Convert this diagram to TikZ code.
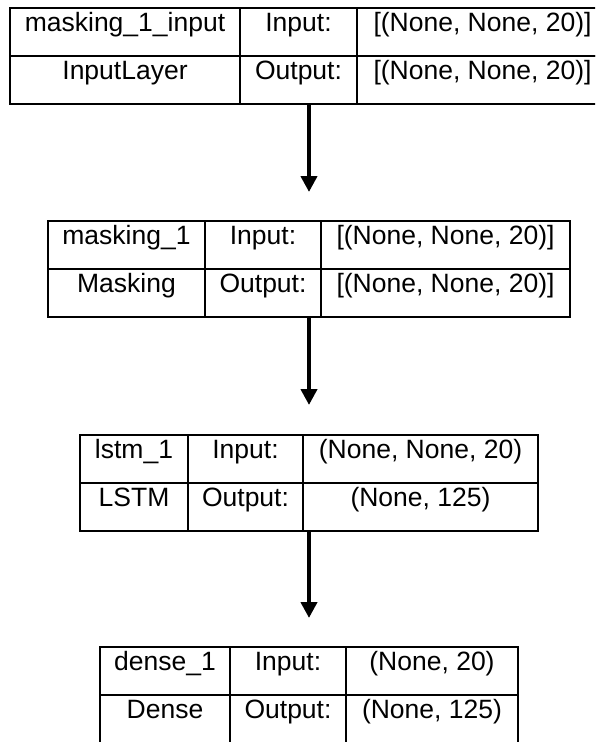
\documentclass[tikz,border=0pt]{standalone}
\usepackage{fontspec}
\setmainfont{Liberation Sans}
\usetikzlibrary{arrows.meta,fit}

\tikzset{
  cell/.style={draw, line width=2pt, anchor=north west, outer sep=0pt,
    inner sep=0pt, minimum height=48pt, text height=10pt, text depth=12pt,
    font=\fontsize{26.5}{31}\selectfont},
  layerbox/.style={inner sep=0pt, outer sep=0pt, draw=none},
  flow/.style={line width=4.5pt, -{Triangle[width=16pt,length=16pt]}}
}

% one table cell: name, left x, right x, top y, text
\newcommand\tablecell[5]{%
  \node[cell, minimum width={(#3-#2)*1pt}] (#1) at (#2,#4) {#5};}

\begin{document}
\begin{tikzpicture}[x=1pt,y=-1pt]
\clip (0,0) rectangle (595,742);

% masking_1_input / InputLayer
\tablecell{a1}{10}{240}{8}{masking\_1\_input}
\tablecell{a2}{240}{357}{8}{Input:}
\tablecell{a3}{357}{608}{8}{[(None, None, 20)]}
\tablecell{a4}{10}{240}{56}{InputLayer}
\tablecell{a5}{240}{357}{56}{Output:}
\tablecell{a6}{357}{608}{56}{[(None, None, 20)]}
\node[layerbox, fit=(a1)(a6)] (inputlayer) {};

% masking_1 / Masking
\tablecell{b1}{48}{205}{221}{masking\_1}
\tablecell{b2}{205}{321}{221}{Input:}
\tablecell{b3}{321}{570}{221}{[(None, None, 20)]}
\tablecell{b4}{48}{205}{269}{Masking}
\tablecell{b5}{205}{321}{269}{Output:}
\tablecell{b6}{321}{570}{269}{[(None, None, 20)]}
\node[layerbox, fit=(b1)(b6)] (masking) {};

% lstm_1 / LSTM
\tablecell{c1}{80}{188}{435}{lstm\_1}
\tablecell{c2}{188}{303}{435}{Input:}
\tablecell{c3}{303}{538}{435}{(None, None, 20)}
\tablecell{c4}{80}{188}{483}{LSTM}
\tablecell{c5}{188}{303}{483}{Output:}
\tablecell{c6}{303}{538}{483}{(None, 125)}
\node[layerbox, fit=(c1)(c6)] (lstm) {};

% dense_1 / Dense
\tablecell{d1}{100}{230}{647}{dense\_1}
\tablecell{d2}{230}{346}{647}{Input:}
\tablecell{d3}{346}{518}{647}{(None, 20)}
\tablecell{d4}{100}{230}{695}{Dense}
\tablecell{d5}{230}{346}{695}{Output:}
\tablecell{d6}{346}{518}{695}{(None, 125)}
\node[layerbox, fit=(d1)(d6)] (dense) {};

% data flow between the layers
\draw[flow] (inputlayer.south) -- ([yshift=29pt]masking.north);
\draw[flow] (masking.south) -- ([yshift=30pt]lstm.north);
\draw[flow] (lstm.south) -- ([yshift=29pt]dense.north);
\end{tikzpicture}
\end{document}
